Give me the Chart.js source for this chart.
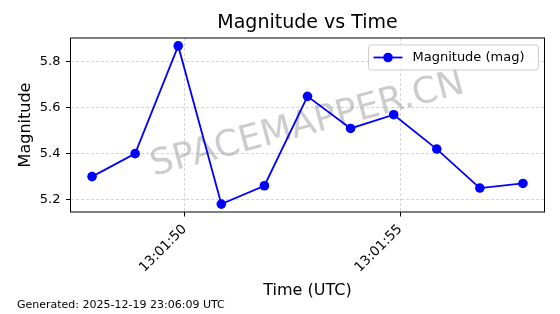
<!DOCTYPE html>
<html>
<head>
<meta charset="utf-8">
<script src="https://cdn.jsdelivr.net/npm/chart.js@4.4.0/dist/chart.umd.min.js"></script>
<style>
  html, body { margin: 0; padding: 0; background: #fff; }
  #wrap { width: 560px; height: 314px; position: relative; }
</style>
</head>
<body>
<div id="wrap"><canvas id="magChart" width="560" height="314"></canvas></div>
<script>
// Data
const times = ["13:01:47.85", "13:01:48.85", "13:01:49.85", "13:01:50.85", "13:01:51.85", "13:01:52.85",
               "13:01:53.85", "13:01:54.85", "13:01:55.85", "13:01:56.85", "13:01:57.85"];
const magnitudes = [5.30, 5.40, 5.87, 5.18, 5.26, 5.65, 5.51, 5.57, 5.42, 5.25, 5.27];
const xTickLabels = ["13:01:50", "13:01:55"];
const yTickValues = [5.2, 5.4, 5.6, 5.8];

const FONT = "'DejaVu Sans', sans-serif";

// "HH:MM:SS(.ss)" -> seconds since midnight
function toSec(t) {
  const p = t.split(":");
  return (+p[0]) * 3600 + (+p[1]) * 60 + parseFloat(p[2]);
}
function fmtTime(s) {
  const h = Math.floor(s / 3600), m = Math.floor((s % 3600) / 60), sec = Math.round(s % 60);
  const pad = (n) => String(n).padStart(2, "0");
  return pad(h) + ":" + pad(m) + ":" + pad(sec);
}

const xs = times.map(toSec);
const points = xs.map((x, i) => ({ x: x, y: magnitudes[i] }));

// matplotlib-like 5% margins
const xMin = Math.min(...xs), xMax = Math.max(...xs);
const yMin = Math.min(...magnitudes), yMax = Math.max(...magnitudes);
const xPad = (xMax - xMin) * 0.05, yPad = (yMax - yMin) * 0.05;

const extras = {
  id: "extras",
  beforeDatasetsDraw(chart) {
    const { ctx, chartArea: a } = chart;
    // watermark behind the line
    ctx.save();
    ctx.translate((a.left + a.right) / 2, (a.top + a.bottom) / 2);
    ctx.rotate(-15 * Math.PI / 180);
    ctx.font = "36px " + FONT;
    ctx.fillStyle = "rgba(128,128,128,0.4)";
    ctx.textAlign = "center";
    ctx.textBaseline = "middle";
    ctx.fillText("SPACEMAPPER.CN", 0, 0);
    ctx.restore();
  },
  afterDraw(chart) {
    const { ctx, chartArea: a } = chart;
    ctx.save();
    // axes frame
    ctx.strokeStyle = "#000";
    ctx.lineWidth = 1;
    ctx.strokeRect(a.left, a.top, a.right - a.left, a.bottom - a.top);

    // title
    ctx.fillStyle = "#000";
    ctx.font = "19px " + FONT;
    ctx.textAlign = "center";
    ctx.textBaseline = "middle";
    ctx.fillText("Magnitude vs Time", (a.left + a.right) / 2, 23);

    // legend (inside, upper right)
    const ds = chart.data.datasets[0];
    const bx = a.right - 176, by = a.top + 7, bw = 170, bh = 25;
    ctx.fillStyle = "rgba(255,255,255,0.8)";
    ctx.strokeStyle = "#cccccc";
    ctx.beginPath();
    ctx.roundRect(bx, by, bw, bh, 3);
    ctx.fill();
    ctx.stroke();
    const ly = by + bh / 2;
    ctx.strokeStyle = ds.borderColor;
    ctx.lineWidth = ds.borderWidth;
    ctx.beginPath();
    ctx.moveTo(bx + 5, ly);
    ctx.lineTo(bx + 34, ly);
    ctx.stroke();
    ctx.fillStyle = ds.pointBackgroundColor;
    ctx.beginPath();
    ctx.arc(bx + 19.5, ly, ds.pointRadius, 0, Math.PI * 2);
    ctx.fill();
    ctx.fillStyle = "#000";
    ctx.font = "13px " + FONT;
    ctx.textAlign = "left";
    ctx.fillText(ds.label, bx + 44, ly);

    // footer note
    ctx.font = "11px " + FONT;
    ctx.fillText("Generated: 2025-12-19 23:06:09 UTC", 17, 305);
    ctx.restore();
  }
};

new Chart(document.getElementById("magChart").getContext("2d"), {
  type: "line",
  data: {
    datasets: [{
      label: "Magnitude (mag)",
      data: points,
      borderColor: "#0000ff",
      backgroundColor: "#0000ff",
      pointBackgroundColor: "#0000ff",
      pointBorderColor: "#0000ff",
      pointBorderWidth: 0,
      borderWidth: 1.8,
      pointRadius: 4.8,
      tension: 0,
      fill: false
    }]
  },
  options: {
    responsive: false,
    animation: false,
    events: [],
    layout: { padding: { left: 12, top: 38, right: 15.5, bottom: 10 } },
    plugins: {
      legend: { display: false },
      title: { display: false },
      tooltip: { enabled: false }
    },
    scales: {
      x: {
        type: "linear",
        min: xMin - xPad,
        max: xMax + xPad,
        afterBuildTicks: (s) => { s.ticks = xTickLabels.map((t) => ({ value: toSec(t) })); },
        afterFit: (s) => { s.height = 92; },
        ticks: {
          color: "#000",
          font: { family: FONT, size: 13.5 },
          minRotation: 45,
          maxRotation: 45,
          padding: 5,
          callback: (v) => fmtTime(v)
        },
        grid: {
          color: "#cccccc",
          lineWidth: 0.8,
          borderDash: [3, 2],
          tickColor: "#000",
          tickLength: 4.5,
          tickWidth: 1,
          tickBorderDash: []
        },
        border: { display: false, dash: [3, 2] },
        title: {
          display: true,
          text: "Time (UTC)",
          color: "#000",
          font: { family: FONT, size: 16 }
        }
      },
      y: {
        min: yMin - yPad,
        max: yMax + yPad,
        afterBuildTicks: (s) => { s.ticks = yTickValues.map((v) => ({ value: v })); },
        afterFit: (s) => { s.width = 58.5; },
        ticks: {
          color: "#000",
          font: { family: FONT, size: 13 },
          padding: 5.5,
          callback: (v) => v.toFixed(1)
        },
        grid: {
          color: "#cccccc",
          lineWidth: 0.8,
          tickColor: "#000",
          tickLength: 4.5,
          tickWidth: 1,
          tickBorderDash: []
        },
        border: { display: false, dash: [3, 2] },
        title: {
          display: true,
          text: "Magnitude",
          color: "#000",
          font: { family: FONT, size: 16 }
        }
      }
    }
  },
  plugins: [extras]
});
</script>
</body>
</html>
